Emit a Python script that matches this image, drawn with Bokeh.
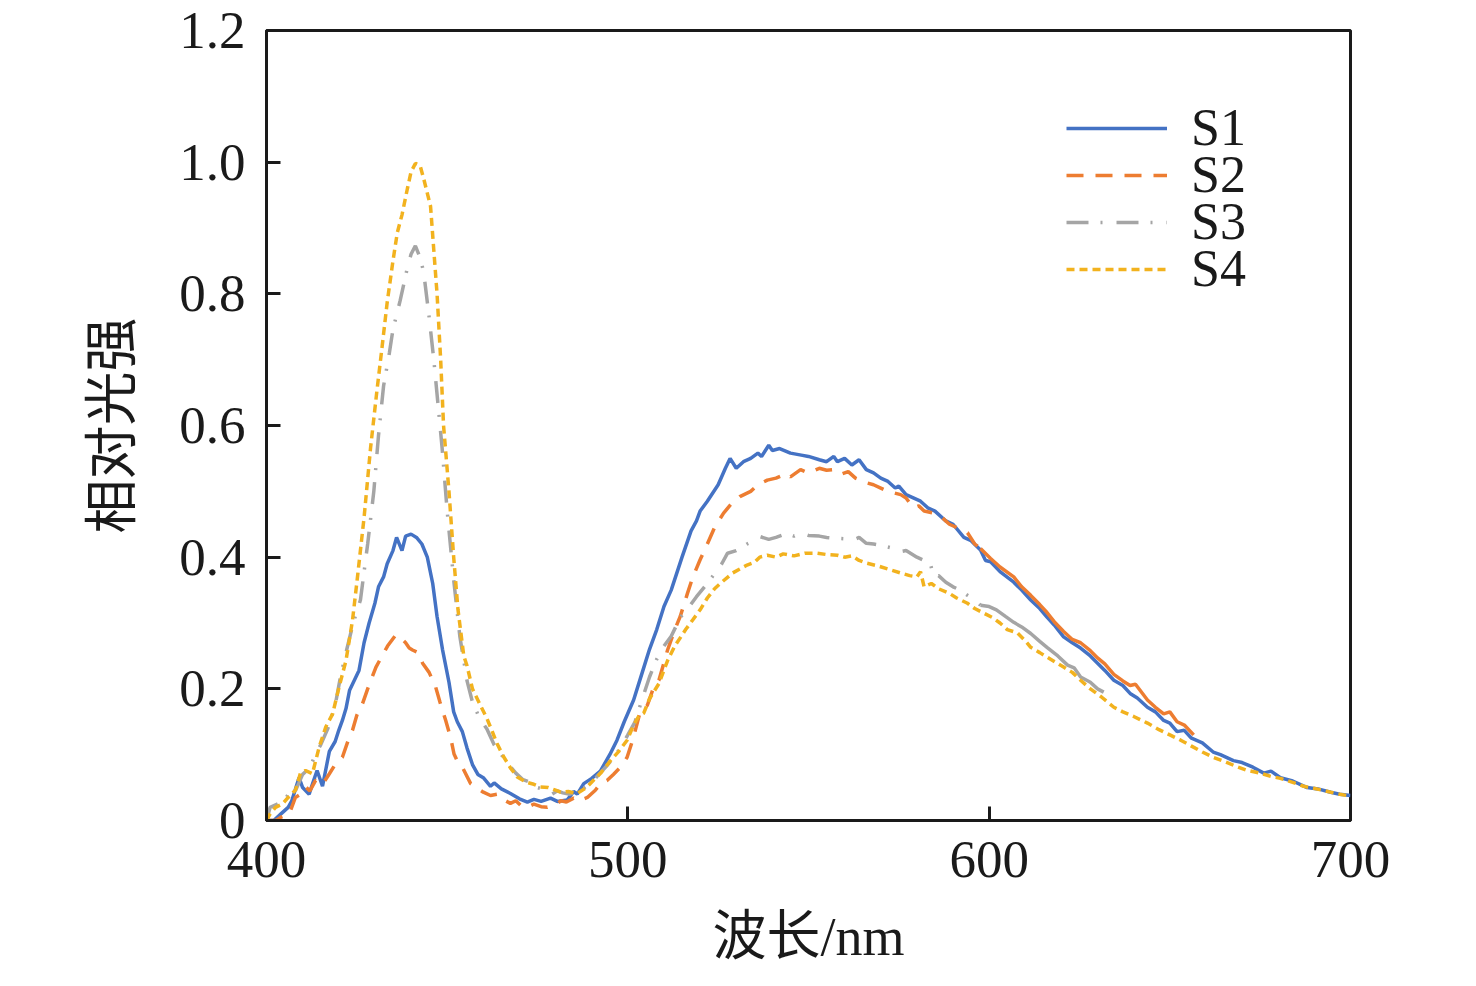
import numpy as np
from bokeh.plotting import figure
from bokeh.models import Range1d, FixedTicker, PrintfTickFormatter, Legend, LegendItem
from bokeh.embed import file_html
from bokeh.resources import INLINE

# ---------------- data ----------------
s1_wl = [400, 402, 404, 406, 407, 409, 410, 411.8, 413, 414, 415.5, 417.4, 419, 420, 421, 422, 423, 425.6, 427,
         428.4, 430, 431, 432.4, 433.4, 435, 436, 437.5, 438.5, 440, 441.5, 443, 444.5, 446, 447.2, 448.7, 450.5,
         451.8, 452.8, 454.2, 455.5, 457, 458.5, 460, 462, 463, 465, 467.5, 470, 472.2, 474, 476, 478.6, 480.5,
         483.2, 485, 486, 487.8, 490, 492.4, 495, 497, 499, 501.6, 504, 506, 508, 510, 512, 515, 517.5, 519, 520,
         522, 525, 527, 528.3, 530, 532, 534, 536, 537, 539, 540, 542, 545, 548, 550, 553, 555, 557, 558, 560,
         562, 564, 566, 568, 570, 572, 574, 575, 577, 579, 581, 583, 585, 588, 590, 593, 595, 597.6, 599, 600.4,
         603, 606.8, 609, 611.5, 614, 616, 618, 620.6, 623, 625.3, 628, 630, 632, 634.5, 637, 639, 641, 643.8,
         646, 648.3, 650, 652, 654, 656, 659, 662, 664, 667.6, 670, 673, 676, 678, 680.6, 684, 688, 691, 694.5,
         697, 700]
s1_val = [0.0, 0.0, 0.01, 0.02, 0.03, 0.065, 0.05, 0.04, 0.06, 0.076, 0.052, 0.105, 0.12, 0.137, 0.152, 0.17,
          0.198, 0.228, 0.27, 0.30, 0.33, 0.355, 0.37, 0.39, 0.41, 0.43, 0.41, 0.432, 0.435, 0.43, 0.42, 0.40,
          0.36, 0.31, 0.26, 0.21, 0.165, 0.15, 0.135, 0.11, 0.085, 0.07, 0.065, 0.052, 0.057, 0.048, 0.041, 0.033,
          0.028, 0.032, 0.029, 0.034, 0.029, 0.031, 0.044, 0.04, 0.056, 0.064, 0.075, 0.10, 0.122, 0.15, 0.183,
          0.225, 0.26, 0.29, 0.325, 0.35, 0.40, 0.44, 0.455, 0.47, 0.485, 0.51, 0.535, 0.55, 0.535, 0.545, 0.55,
          0.558, 0.553, 0.57, 0.562, 0.565, 0.558, 0.555, 0.553, 0.548, 0.545, 0.553, 0.545, 0.55, 0.54, 0.548,
          0.533, 0.528, 0.52, 0.515, 0.505, 0.508, 0.495, 0.49, 0.485, 0.475, 0.47, 0.455, 0.45, 0.43, 0.425,
          0.411, 0.395, 0.393, 0.378, 0.362, 0.35, 0.335, 0.322, 0.309, 0.297, 0.279, 0.27, 0.262, 0.25, 0.239,
          0.228, 0.213, 0.205, 0.193, 0.186, 0.172, 0.165, 0.152, 0.148, 0.135, 0.137, 0.125, 0.118, 0.104, 0.1,
          0.091, 0.088, 0.081, 0.072, 0.075, 0.065, 0.06, 0.05, 0.048, 0.043, 0.04, 0.038]

s2_wl = [400, 402.6, 404, 406.3, 408, 409.5, 410.8, 412, 413.6, 415.5, 417.4, 419, 421, 422.5, 423.8, 425, 426.6,
         428, 430.3, 432, 433.5, 435.8, 437, 438.5, 439.5, 440.4, 442, 443.2, 445, 446.8, 448, 449.6, 451, 451.9,
         453, 454.2, 456.5, 458, 460, 462, 464, 465.5, 467.5, 469, 470.5, 472.2, 474, 476, 477.7, 480, 481.5, 483,
         485, 486.5, 488.8, 491, 492.4, 494.3, 496, 498, 499.8, 501.5, 503.5, 505.4, 507, 508.6, 511, 513, 514.5,
         516.5, 518, 520, 522, 524, 526.5, 528.5, 531, 534, 536, 538.6, 541, 544, 545, 547.8, 550, 553, 555, 557,
         559, 561, 563, 566, 568, 570, 572, 575.5, 577, 579, 580.5, 582, 584.6, 587, 589, 591, 594, 596, 597.6,
         600.4, 603, 606.8, 609, 611.5, 614, 616, 618, 620.6, 623, 625.3, 628, 630, 632, 634.5, 637, 639, 640.5,
         643.8, 646, 648.3, 650, 652, 654, 656.6]
s2_val = [0.0, 0.0, 0.005, 0.01, 0.035, 0.04, 0.051, 0.045, 0.061, 0.055, 0.071, 0.085, 0.096, 0.12, 0.137, 0.16,
          0.178, 0.2, 0.233, 0.25, 0.265, 0.282, 0.278, 0.27, 0.262, 0.259, 0.255, 0.239, 0.225, 0.203, 0.18,
          0.152, 0.125, 0.101, 0.088, 0.081, 0.056, 0.05, 0.043, 0.038, 0.04, 0.032, 0.026, 0.03, 0.022, 0.02,
          0.025, 0.021, 0.02, 0.024, 0.03, 0.028, 0.034, 0.03, 0.035, 0.046, 0.056, 0.061, 0.07, 0.081, 0.096,
          0.125, 0.167, 0.175, 0.2, 0.213, 0.259, 0.29, 0.31, 0.345, 0.37, 0.396, 0.42, 0.445, 0.467, 0.48, 0.492,
          0.5, 0.51, 0.517, 0.52, 0.527, 0.522, 0.533, 0.528, 0.535, 0.532, 0.533, 0.526, 0.53, 0.52, 0.513, 0.51,
          0.505, 0.5, 0.495, 0.49, 0.475, 0.478, 0.47, 0.467, 0.46, 0.45, 0.445, 0.437, 0.42, 0.413, 0.398, 0.385,
          0.37, 0.355, 0.342, 0.328, 0.316, 0.302, 0.287, 0.275, 0.27, 0.258, 0.247, 0.238, 0.222, 0.212, 0.205,
          0.207, 0.183, 0.172, 0.162, 0.165, 0.15, 0.145, 0.13]

s3_wl = [400, 401, 403, 405, 407, 408, 410, 412, 413.5, 415, 417, 419, 420.5, 422, 424, 426, 428, 429.7, 431,
         432.4, 434, 435, 437, 439, 440, 441.2, 442.5, 443.5, 445, 446.3, 447.5, 448.6, 450, 451.8, 453.5, 455.5,
         457, 459, 461, 463, 465, 467, 469, 471, 473, 475, 477, 479, 480.5, 482, 484, 486, 488, 490, 492, 494,
         496, 498, 500, 502, 504, 506, 508, 510, 512, 514.6, 517, 519, 522, 524, 526, 527.6, 530, 533, 535, 536.7,
         539, 541, 544, 546, 547.8, 550, 553, 555, 557, 560, 562, 564, 566, 568, 570, 573, 575, 577, 580, 582,
         583.7, 584.6, 586, 588, 590, 592, 594, 596, 597.6, 600, 602, 604.5, 606.8, 609, 611.5, 614, 616, 619,
         621.7, 623.5, 625.3, 628, 630, 631.7]
s3_val = [0.0, 0.02, 0.025, 0.03, 0.05, 0.045, 0.07, 0.08, 0.1, 0.115, 0.14, 0.175, 0.219, 0.255, 0.3, 0.335,
          0.42, 0.50, 0.585, 0.66, 0.71, 0.746, 0.79, 0.84, 0.86, 0.873, 0.855, 0.833, 0.765, 0.70, 0.63, 0.566,
          0.47, 0.366, 0.28, 0.212, 0.18, 0.155, 0.139, 0.115, 0.1, 0.085, 0.072, 0.062, 0.058, 0.05, 0.047, 0.04,
          0.045, 0.042, 0.04, 0.045, 0.05, 0.058, 0.07, 0.082, 0.095, 0.111, 0.13, 0.15, 0.185, 0.218, 0.245,
          0.265, 0.28, 0.309, 0.325, 0.34, 0.36, 0.375, 0.39, 0.406, 0.41, 0.42, 0.425, 0.431, 0.427, 0.43, 0.436,
          0.432, 0.437, 0.433, 0.432, 0.43, 0.429, 0.428, 0.425, 0.43, 0.421, 0.42, 0.418, 0.414, 0.408, 0.41,
          0.4, 0.395, 0.391, 0.37, 0.372, 0.362, 0.355, 0.35, 0.342, 0.335, 0.327, 0.325, 0.32, 0.31, 0.301,
          0.294, 0.284, 0.272, 0.263, 0.25, 0.236, 0.232, 0.218, 0.21, 0.2, 0.195]

s4_wl = [400, 401, 402.5, 404.4, 406, 408, 409.4, 410.8, 412.7, 414.6, 416.4, 418.3, 420.1, 422, 423.8, 425.1,
         427, 428.8, 430.5, 432, 433.4, 435, 436.2, 437.5, 439, 440, 441.2, 442.5, 443.5, 445.4, 447.2, 448.2,
         449, 450.5, 451.8, 453, 454.6, 455.5, 457, 459.2, 461, 462.5, 463.8, 465.5, 467.5, 469.4, 472, 474,
         475.8, 478, 480, 481.4, 483.5, 486, 488.5, 490.5, 492.5, 495.2, 497.5, 499.8, 501.6, 503, 504.4, 506,
         508.6, 511, 513, 516, 518, 520, 522, 524, 526, 529, 531, 533, 535, 536.5, 538.6, 541, 543, 546, 549,
         552.5, 555, 558, 560, 562, 564, 566, 569, 572, 575.5, 578, 580, 581, 582, 584, 586, 589, 591, 594, 596,
         598.5, 601, 603, 605, 607.8, 610, 611.5, 614, 617, 620.6, 623, 625.3, 628, 631, 634.5, 637, 640, 643.8,
         647, 650, 653, 656, 659, 662, 665, 668, 671.5, 675, 678, 680.6, 684, 687, 689.8, 693, 696, 699, 700]
s4_val = [0.0, 0.01, 0.02, 0.025, 0.035, 0.046, 0.072, 0.076, 0.071, 0.112, 0.142, 0.162, 0.203, 0.243, 0.304,
          0.366, 0.46, 0.566, 0.65, 0.72, 0.787, 0.85, 0.893, 0.92, 0.96, 0.985, 0.998, 0.995, 0.975, 0.933, 0.80,
          0.70, 0.60, 0.50, 0.40, 0.32, 0.25, 0.235, 0.2, 0.175, 0.155, 0.135, 0.117, 0.098, 0.08, 0.066, 0.058,
          0.055, 0.051, 0.05, 0.046, 0.043, 0.044, 0.041, 0.05, 0.061, 0.072, 0.091, 0.105, 0.122, 0.145, 0.158,
          0.163, 0.185, 0.208, 0.243, 0.265, 0.29, 0.305, 0.32, 0.338, 0.352, 0.362, 0.376, 0.382, 0.388, 0.392,
          0.4, 0.403, 0.4, 0.405, 0.402, 0.406, 0.406, 0.404, 0.403, 0.4, 0.402, 0.395, 0.391, 0.387, 0.382, 0.376,
          0.372, 0.37, 0.378, 0.355, 0.36, 0.352, 0.345, 0.338, 0.33, 0.322, 0.315, 0.308, 0.3, 0.29, 0.285,
          0.273, 0.263, 0.255, 0.245, 0.233, 0.225, 0.213, 0.2, 0.188, 0.172, 0.165, 0.158, 0.148, 0.138, 0.13,
          0.122, 0.113, 0.104, 0.096, 0.09, 0.083, 0.076, 0.072, 0.067, 0.064, 0.058, 0.052, 0.049, 0.045, 0.041,
          0.038, 0.036]

# wavelength after which the measured S2 / S3 traces are drawn solid
solid_from = 597.6

series_names = ["S1", "S2", "S3", "S4"]
x_ticks = [400, 500, 600, 700]
y_ticks = [0, 0.2, 0.4, 0.6, 0.8, 1.0, 1.2]
x_title = "波长/nm"
y_title = "相对光强"

# ---------------- styling ----------------
COL = {"S1": "#4472C4", "S2": "#ED7D31", "S3": "#A5A5A5", "S4": "#F2B21E"}
SERIF = "Liberation Serif, Noto Sans CJK SC, serif"
FS = "53px"

p = figure(width=1460, height=970, output_backend="svg", toolbar_location=None,
           x_range=Range1d(400, 700), y_range=Range1d(0, 1.2),
           min_border_left=266, min_border_right=110, min_border_top=30, min_border_bottom=150)
p.background_fill_color = "white"
p.border_fill_color = "white"
p.xgrid.visible = False
p.ygrid.visible = False
p.outline_line_color = "#1a1a1a"
p.outline_line_width = 3
p.outline_line_alpha = 1.0

for ax in (p.xaxis[0], p.yaxis[0]):
    ax.axis_line_width = 3
    ax.axis_line_color = "#1a1a1a"
    ax.major_tick_line_width = 3
    ax.major_tick_line_color = "#1a1a1a"
    ax.major_tick_in = 14
    ax.major_tick_out = 0
    ax.minor_tick_line_color = None
    ax.major_label_text_font = SERIF
    ax.major_label_text_font_size = FS
    ax.major_label_text_color = "#1a1a1a"
    ax.axis_label_text_font = SERIF
    ax.axis_label_text_font_size = "54px"
    ax.axis_label_text_font_style = "normal"
    ax.axis_label_text_color = "#1a1a1a"

p.xaxis.ticker = FixedTicker(ticks=x_ticks)
p.yaxis.ticker = FixedTicker(ticks=y_ticks)
p.yaxis.formatter = PrintfTickFormatter(format="%.1f")
p.yaxis.major_label_overrides = {0: "0"}
p.xaxis.major_label_standoff = 21
p.yaxis.major_label_standoff = 21
p.xaxis.axis_label = x_title
p.yaxis.axis_label = y_title
p.xaxis.axis_label_standoff = 27
p.yaxis.axis_label_standoff = 33

LW = 3.5
r1 = p.line(s1_wl, s1_val, line_color=COL["S1"], line_width=LW)

s2w = np.array(s2_wl); s2v = np.array(s2_val)
m2 = s2w <= solid_from
r2 = p.line(s2w[m2], s2v[m2], line_color=COL["S2"], line_width=LW, line_dash="17 12")
p.line(s2w[s2w >= solid_from], s2v[s2w >= solid_from], line_color=COL["S2"], line_width=LW)

s3w = np.array(s3_wl); s3v = np.array(s3_val)
m3 = s3w <= solid_from
r3 = p.line(s3w[m3], s3v[m3], line_color=COL["S3"], line_width=LW, line_dash="22 12 2 14")
p.line(s3w[s3w >= solid_from], s3v[s3w >= solid_from], line_color=COL["S3"], line_width=LW)

r4 = p.line(s4_wl, s4_val, line_color=COL["S4"], line_width=LW, line_dash="8 5")

# one single-entry legend per series, so the row pitch can be set tightly
row_pitch = 47
first_row_bottom = 663
for i, (n, r) in enumerate(zip(series_names, [r1, r2, r3, r4])):
    lg = Legend(items=[LegendItem(label=n, renderers=[r])],
                location=(800, first_row_bottom - i * row_pitch))
    lg.glyph_width = 101
    lg.glyph_height = 30
    lg.label_standoff = 24
    lg.label_text_font = SERIF
    lg.label_text_font_size = "52px"
    lg.label_text_color = "#1a1a1a"
    lg.padding = 0
    lg.margin = 0
    lg.border_line_color = None
    lg.background_fill_alpha = 0
    p.add_layout(lg, "center")

open("out.html", "w").write(file_html(p, INLINE))
